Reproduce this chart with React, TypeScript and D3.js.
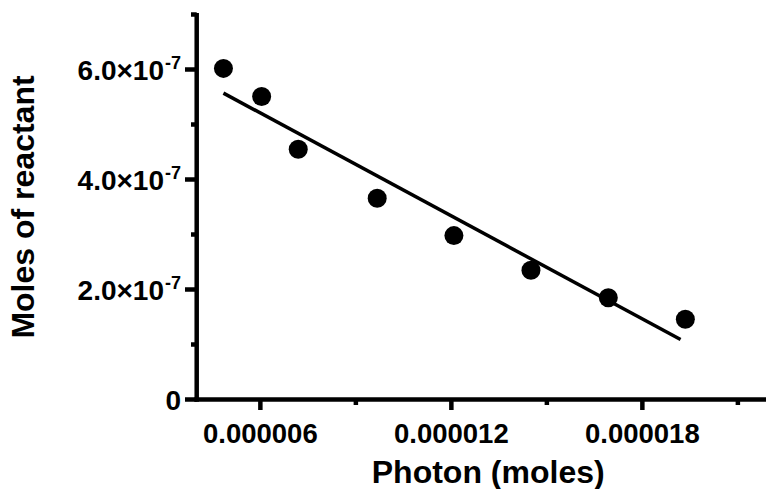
import React from "react";
import * as d3 from "d3";

const photonMoles = [4.84e-6, 6.04e-6, 7.19e-6, 9.67e-6, 12.08e-6, 14.5e-6, 16.93e-6, 19.35e-6];
const reactantMoles = [6.02e-7, 5.51e-7, 4.55e-7, 3.66e-7, 2.98e-7, 2.35e-7, 1.85e-7, 1.46e-7];
const fitXRange = [4.84e-6, 19.2e-6];

const xDomain = [4e-6, 22e-6];
const yDomain = [0, 7e-7];
const xMajorTicks = [6e-6, 12e-6, 18e-6];
const xMajorLabels = ["0.000006", "0.000012", "0.000018"];
const xMinorTicks = [9e-6, 15e-6, 21e-6];
const yMajorTicks = [0, 2e-7, 4e-7, 6e-7];
const yMajorMantissa = ["0", "2.0×10", "4.0×10", "6.0×10"];
const yMajorExponent = ["", "-7", "-7", "-7"];
const yMinorTicks = [1e-7, 3e-7, 5e-7, 7e-7];

const xTitle = "Photon (moles)";
const yTitle = "Moles of reactant";

const W = 766;
const H = 489;
const FONT = "'Liberation Sans', Arial, Helvetica, sans-serif";

export default function App() {
  const x = d3.scaleLinear().domain(xDomain).range([196.7, 769.7]);
  const y = d3.scaleLinear().domain(yDomain).range([399.5, 14.5]);

  // least squares fit
  const mx = d3.mean(photonMoles) as number;
  const my = d3.mean(reactantMoles) as number;
  let sxy = 0, sxx = 0;
  photonMoles.forEach((v, i) => {
    sxy += (v - mx) * (reactantMoles[i] - my);
    sxx += (v - mx) * (v - mx);
  });
  const slope = sxy / sxx;
  const intercept = my - slope * mx;
  const fitLine = d3
    .line<number>()
    .x((d) => x(d))
    .y((d) => y(intercept + slope * d));

  const x0 = x(xDomain[0]);
  const y0 = y(0);
  const axisW = 4.5;

  return (
    <svg
      width={W}
      height={H}
      style={{ position: "absolute", left: 0, top: 0, background: "#fff" }}
      fontFamily={FONT}
      fontWeight="bold"
    >
      <rect x={0} y={0} width={W} height={H} fill="#fff" />
      {/* fit line */}
      <path d={fitLine(fitXRange) as string} stroke="#000" strokeWidth={3.5} fill="none" />
      {/* points */}
      {photonMoles.map((v, i) => (
        <circle key={i} cx={x(v)} cy={y(reactantMoles[i])} r={9.5} fill="#000" />
      ))}
      {/* y axis */}
      <line x1={x0} x2={x0} y1={y(yDomain[1]) - 1.5} y2={y0 + axisW / 2} stroke="#000" strokeWidth={axisW} />
      {yMajorTicks.map((t, i) => (
        <line key={"ym" + i} x1={185} x2={x0} y1={y(t)} y2={y(t)} stroke="#000" strokeWidth={axisW} />
      ))}
      {yMinorTicks.map((t, i) => (
        <line key={"yn" + i} x1={191} x2={x0} y1={y(t)} y2={y(t)} stroke="#000" strokeWidth={axisW} />
      ))}
      {/* x axis */}
      <line x1={x0 - axisW / 2} x2={x(xDomain[1])} y1={y0} y2={y0} stroke="#000" strokeWidth={axisW} />
      {xMajorTicks.map((t, i) => (
        <line key={"xm" + i} x1={x(t)} x2={x(t)} y1={y0} y2={y0 + 10.5} stroke="#000" strokeWidth={axisW} />
      ))}
      {xMinorTicks.map((t, i) => (
        <line key={"xn" + i} x1={x(t)} x2={x(t)} y1={y0} y2={y0 + 5.5} stroke="#000" strokeWidth={axisW} />
      ))}
      {/* x tick labels */}
      {xMajorTicks.map((t, i) => (
        <text key={"xl" + i} x={x(t)} y={y0 + 43.5} textAnchor="middle" fontSize={27.5} fill="#000">
          {xMajorLabels[i]}
        </text>
      ))}
      {/* y tick labels */}
      {yMajorTicks.map((t, i) => (
        <text key={"yl" + i} x={181} y={y(t) + 10} textAnchor="end" fontSize={28} fill="#000">
          {yMajorMantissa[i]}
          {yMajorExponent[i] ? (
            <tspan fontSize={18} dx={1} dy={-11}>
              {yMajorExponent[i]}
            </tspan>
          ) : null}
        </text>
      ))}
      {/* titles */}
      <text x={(x0 + x(xDomain[1])) / 2 + 5} y={483} textAnchor="middle" fontSize={32} fill="#000">
        {xTitle}
      </text>
      <text
        transform={`translate(34,${(y(0) + y(yDomain[1])) / 2}) rotate(-90)`}
        textAnchor="middle"
        fontSize={32}
        fill="#000"
      >
        {yTitle}
      </text>
    </svg>
  );
}
